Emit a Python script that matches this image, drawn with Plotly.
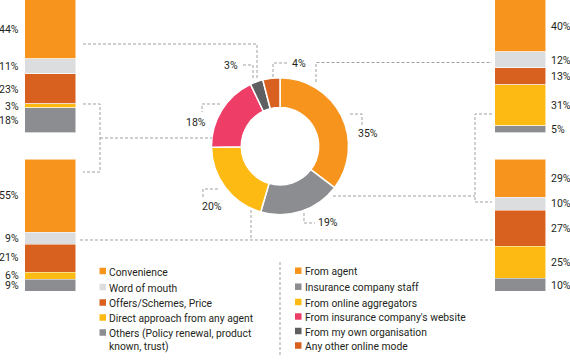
import plotly.graph_objects as go

# ---------------- data ----------------
bar_categories = ["Convenience", "Word of mouth", "Offers/Schemes, Price",
                  "Direct approach from any agent",
                  "Others (Policy renewal, product known, trust)"]
bar_top_left = [44, 11, 23, 3, 18]
bar_bottom_left = [55, 9, 21, 6, 9]
bar_top_right = [40, 12, 13, 31, 5]
bar_bottom_right = [29, 10, 27, 25, 10]

pie_labels = ["From agent", "Insurance company staff", "From online aggregators",
              "From insurance company's website", "From my own organisation",
              "Any other online mode"]
pie_values = [35, 19, 20, 18, 3, 4]

# ---------------- styles ----------------
bar_colors = ["#F7941D", "#DCDDDE", "#D8611F", "#FDBA12", "#8C8D90"]
pie_colors = ["#F7941D", "#8C8D90", "#FDBA12", "#EE3E67", "#5E5F61", "#D8611F"]
TXT = "#231F20"
FONT = "Roboto, sans-serif"
FS = 10.5
LFS = 10.3
DASH_COL = "#A0A0A0"

W, H = 570, 362


def X(px):
    return px / W


def Y(py):
    return 1 - py / H


fig = go.Figure()

# stacked bars: (values, axis suffix, x-range px, y-range px, label side)
bar_specs = [
    (bar_top_left, "", (25, 76), (0, 132.5), "left"),
    (bar_bottom_left, "2", (25, 76), (159.3, 291.7), "left"),
    (bar_top_right, "3", (495, 545.7), (0, 132.5), "right"),
    (bar_bottom_right, "4", (495, 545.7), (159.3, 291.7), "right"),
]

annotations = []
for vals, sfx, (x0, x1), (y0, y1), side in bar_specs:
    for cat, v, c in zip(bar_categories, vals, bar_colors):
        fig.add_trace(go.Bar(
            x=[0], y=[v], width=[1], name=cat,
            marker=dict(color=c, line=dict(color="white", width=0.5)),
            xaxis="x" + sfx, yaxis="y" + sfx, showlegend=False, hoverinfo="skip"))
    total = sum(vals)
    xa = dict(domain=[X(x0), X(x1)], range=[-0.5, 0.5], visible=False, fixedrange=True,
              anchor="y" + sfx)
    ya = dict(domain=[Y(y1), Y(y0)], range=[total, 0], visible=False, fixedrange=True,
              anchor="x" + sfx)
    fig.update_layout(**{"xaxis" + sfx: xa, "yaxis" + sfx: ya})
    cum = 0
    for v in vals:
        mid = cum + v / 2
        cum += v
        annotations.append(dict(
            x=-0.5 if side == "left" else 0.5, y=mid,
            xref="x" + sfx, yref="y" + sfx,
            xanchor="right" if side == "left" else "left", yanchor="middle",
            xshift=-4 if side == "left" else 3,
            text=f"{v}%", showarrow=False, font=dict(family=FONT, size=FS, color=TXT)))

# donut
cx, cy, r = 280, 146.2, 68.5
fig.add_trace(go.Pie(
    labels=pie_labels, values=pie_values, sort=False, direction="clockwise", rotation=0,
    hole=0.565, textinfo="none", showlegend=False, hoverinfo="label+percent",
    marker=dict(colors=pie_colors, line=dict(color="white", width=1.5)),
    domain=dict(x=[X(cx - r), X(cx + r)], y=[Y(cy + r), Y(cy - r)])))

# donut percentage labels (pixel positions)
pie_label_pos = [(367.5, 133), (327.5, 222.5), (211.5, 206), (195.5, 122.5), (231, 66), (299, 63)]
for v, (px, py) in zip(pie_values, pie_label_pos):
    annotations.append(dict(x=X(px), y=Y(py), xref="paper", yref="paper",
                            xanchor="center", yanchor="middle", text=f"{v}%", showarrow=False,
                            font=dict(family=FONT, size=FS, color=TXT)))

# dashed connectors / leaders (pixel polylines)
polylines = [
    [(350, 114), (362, 114), (362, 125)],
    [(304, 213), (304, 223), (315, 223)],
    [(218, 189), (203, 189), (203, 197)],
    [(220, 104), (202, 104), (202, 112)],
    [(243, 65), (253, 65), (253, 80)],
    [(273, 77), (273, 63), (288, 63)],
    [(83, 44), (257, 44), (257, 80)],
    [(83, 104), (100, 104), (100, 172), (83, 172)],
    [(100, 138), (212, 138)],
    [(80, 240), (493, 240)],
    [(251, 210), (251, 240)],
    [(316, 82), (316, 62.5), (492, 62.5)],
    [(492, 114), (475, 114), (475, 202), (492, 202)],
    [(333, 196), (475, 196)],
    [(280, 262), (280, 355)],
]
shapes = []
for pl in polylines:
    path = "M" + " L".join(f"{X(a):.5f},{Y(b):.5f}" for a, b in pl)
    shapes.append(dict(type="path", path=path, xref="paper", yref="paper",
                       line=dict(color=DASH_COL, width=1, dash="3px,2px")))


# legends (squares + text)
def legend_block(names, colors, sq_x, txt_x, rows):
    for name, col, ry in zip(names, colors, rows):
        shapes.append(dict(type="rect", xref="paper", yref="paper",
                           x0=X(sq_x), x1=X(sq_x + 6.5), y0=Y(ry + 3.25), y1=Y(ry - 3.25),
                           fillcolor=col, line=dict(width=0)))
        annotations.append(dict(x=X(txt_x), y=Y(ry - 7.5), xref="paper", yref="paper",
                                xanchor="left", yanchor="top", align="left",
                                text=name, showarrow=False,
                                font=dict(family=FONT, size=LFS, color=TXT)))


left_names = [c.replace("product known", "product<br>known") for c in bar_categories]
legend_block(left_names, bar_colors, 99.5, 107, [271, 287, 302.5, 317.5, 332.5])
legend_block(pie_labels, pie_colors, 295, 303, [270.7, 286.7, 302, 316.5, 331, 345.5])

fig.update_layout(
    width=W, height=H, margin=dict(l=0, r=0, t=0, b=0),
    paper_bgcolor="white", plot_bgcolor="white",
    barmode="stack", bargap=0, showlegend=False,
    annotations=annotations, shapes=shapes,
)

fig.write_html("out.html", config={"displayModeBar": False},
               post_script="document.body.style.margin='0';document.body.style.overflow='hidden';")
